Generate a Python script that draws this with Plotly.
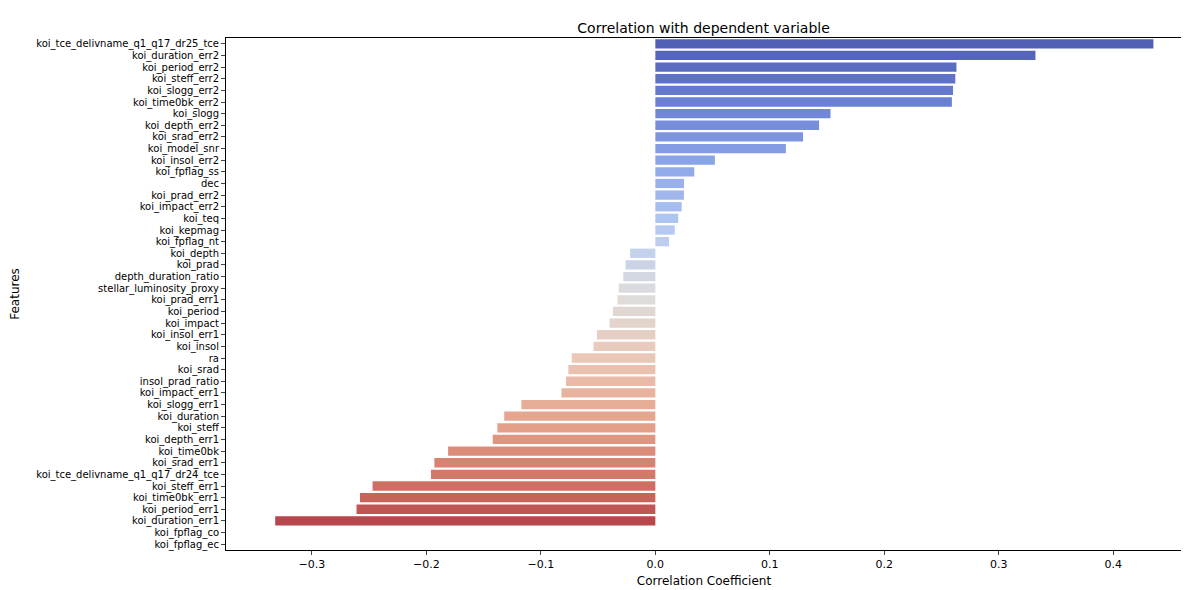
import plotly.graph_objects as go
import colorsys

features = ["koi_tce_delivname_q1_q17_dr25_tce","koi_duration_err2","koi_period_err2","koi_steff_err2","koi_slogg_err2","koi_time0bk_err2","koi_slogg","koi_depth_err2","koi_srad_err2","koi_model_snr","koi_insol_err2","koi_fpflag_ss","dec","koi_prad_err2","koi_impact_err2","koi_teq","koi_kepmag","koi_fpflag_nt","koi_depth","koi_prad","depth_duration_ratio","stellar_luminosity_proxy","koi_prad_err1","koi_period","koi_impact","koi_insol_err1","koi_insol","ra","koi_srad","insol_prad_ratio","koi_impact_err1","koi_slogg_err1","koi_duration","koi_steff","koi_depth_err1","koi_time0bk","koi_srad_err1","koi_tce_delivname_q1_q17_dr24_tce","koi_steff_err1","koi_time0bk_err1","koi_period_err1","koi_duration_err1","koi_fpflag_co","koi_fpflag_ec"]
correlations = [0.435,0.332,0.263,0.262,0.260,0.259,0.153,0.143,0.129,0.114,0.052,0.034,0.025,0.025,0.023,0.020,0.017,0.012,-0.022,-0.026,-0.028,-0.032,-0.033,-0.037,-0.040,-0.051,-0.054,-0.073,-0.076,-0.078,-0.082,-0.117,-0.132,-0.138,-0.142,-0.181,-0.193,-0.196,-0.247,-0.258,-0.261,-0.332,0.0,0.0]

anchors = [(0,(59,76,192)),(0.125,(86,115,228)),(0.25,(124,159,249)),(0.375,(170,199,253)),(0.5,(221,221,221)),(0.625,(244,196,173)),(0.75,(244,154,123)),(0.875,(222,96,77)),(1.0,(180,4,38))]
def cmap(t):
    for (a,ca),(b,cb) in zip(anchors,anchors[1:]):
        if t<=b:
            f=(t-a)/(b-a)
            return [ca[i]+(cb[i]-ca[i])*f for i in range(3)]
    return list(anchors[-1][1])
n=len(features)
colors=[]
for i in range(n):
    r,g,b=[c/255 for c in cmap((i+1)/(n+1))]
    h,l,s=colorsys.rgb_to_hls(r,g,b)
    r,g,b=colorsys.hls_to_rgb(h,l,s*0.75)
    colors.append(f"rgb({int(r*255)},{int(g*255)},{int(b*255)})")

fig=go.Figure(go.Bar(x=correlations,y=features,orientation="h",marker=dict(color=colors,line=dict(width=0)),width=0.8))
fig.update_layout(width=1189,height=590,plot_bgcolor="white",paper_bgcolor="white",
    font=dict(family="DejaVu Sans",size=12,color="black"),
    title=dict(text="Correlation with dependent variable",x=0.585,xanchor="center",y=0.975,font=dict(size=14)),
    margin=dict(l=218,r=15,t=30,b=48),showlegend=False)
fig.update_xaxes(range=[-0.375,0.46],dtick=0.1,tickformat=".1f",showgrid=False,zeroline=False,automargin=False,
    showline=True,mirror=True,linecolor="black",ticks="outside",ticklen=4,
    title=dict(text="Correlation Coefficient",standoff=6,font=dict(size=12)),tickfont=dict(size=11))
fig.update_yaxes(autorange=False,range=[n-0.5,-0.5],showgrid=False,showline=True,mirror=True,linecolor="black",
    tickmode="array",tickvals=features,ticktext=features,automargin=False,
    ticks="outside",ticklen=4,title=dict(text="Features",standoff=190,font=dict(size=12)),tickfont=dict(size=10))
fig.write_html("out.html")
